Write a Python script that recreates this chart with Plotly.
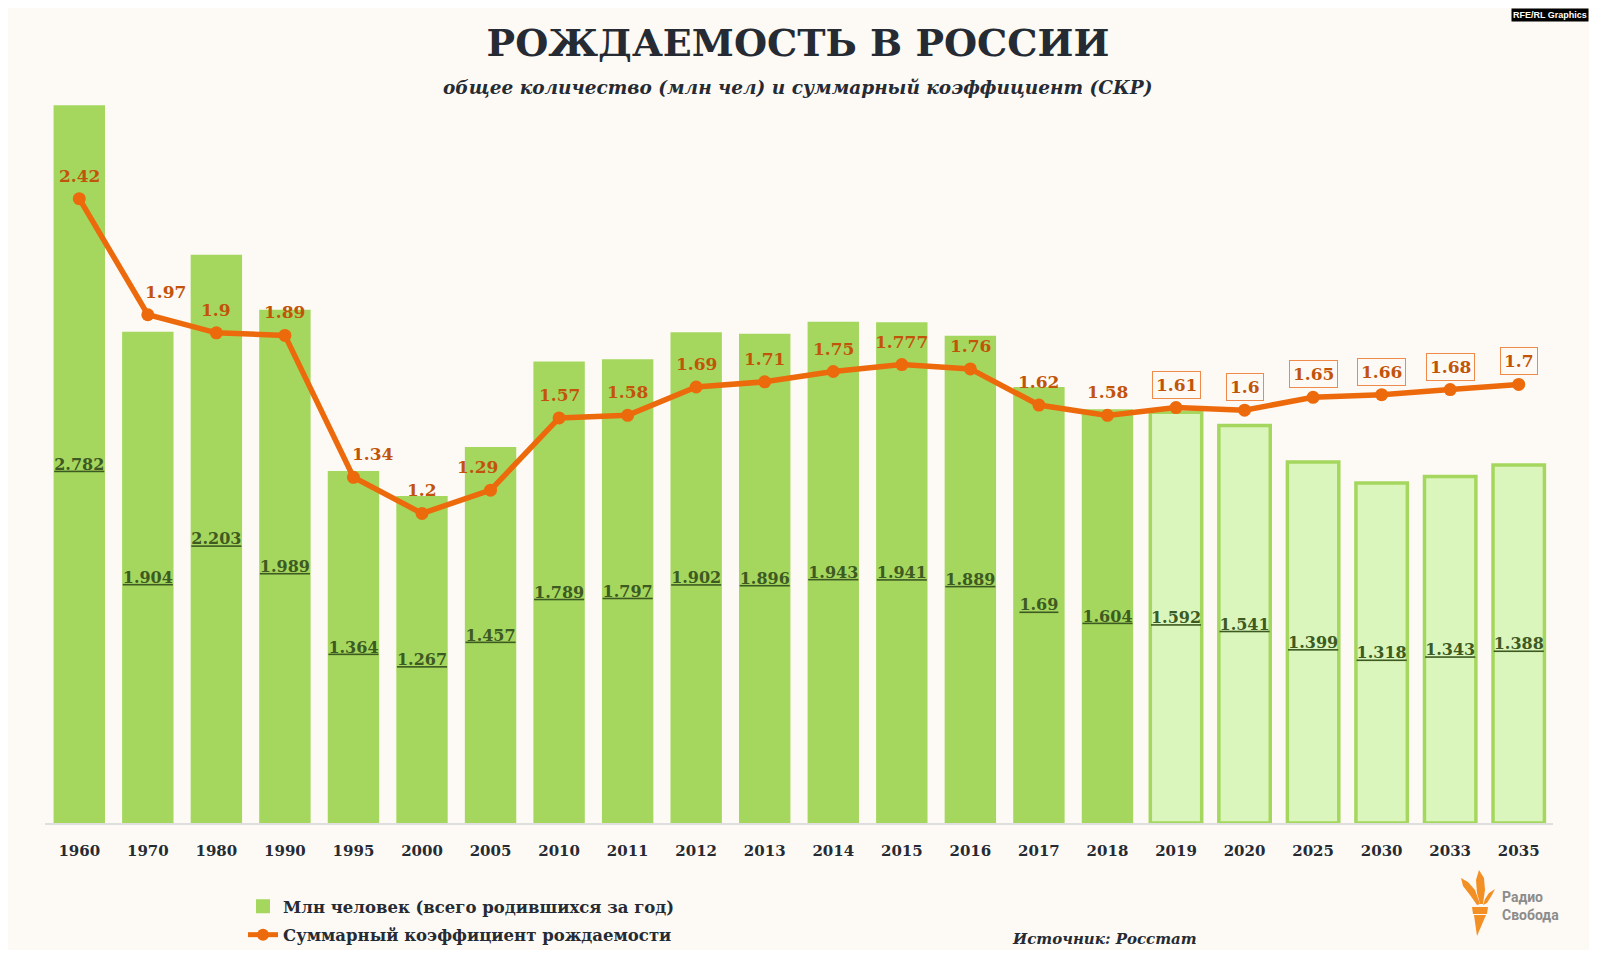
import plotly.graph_objects as go

# ---------------- data ----------------
years = ["1960", "1970", "1980", "1990", "1995", "2000", "2005", "2010", "2011", "2012",
         "2013", "2014", "2015", "2016", "2017", "2018", "2019", "2020", "2025", "2030",
         "2033", "2035"]
births_mln = [2.782, 1.904, 2.203, 1.989, 1.364, 1.267, 1.457, 1.789, 1.797, 1.902,
              1.896, 1.943, 1.941, 1.889, 1.69, 1.604, 1.592, 1.541, 1.399, 1.318,
              1.343, 1.388]
tfr = [2.42, 1.97, 1.9, 1.89, 1.34, 1.2, 1.29, 1.57, 1.58, 1.69,
       1.71, 1.75, 1.777, 1.76, 1.62, 1.58, 1.61, 1.6, 1.65, 1.66,
       1.68, 1.7]
first_forecast = "2019"

# ---------------- geometry (page pixels; body margin offsets the figure) ----------------
OFF = 8
W, H = 1581, 942
PL, PR, PT, PB = 45, 1553, 49, 823          # plot area in page pixels
L, T = PL - OFF, PT - OFF
R, B = W - (PR - OFF), H - (PB - OFF)
PW, PH = W - L - R, H - T - B


def px(x):
    return (x - OFF - L) / PW


def py(y):
    return (H - B - (y - OFF)) / PH


BG = "#fdfaf5"
GREEN = "#a5d75e"
GREEN_LIGHT = "#daf6bd"
ORANGE = "#ec6a0c"
ORANGE_TXT = "#c2540a"
DARK = "#262b33"
BAR_TXT = "#3d5a22"
SERIF = "DejaVu Serif"

fc = years.index(first_forecast)
n = len(years)
bar_colors = [GREEN if i < fc else GREEN_LIGHT for i in range(n)]
bar_line_w = [0 if i < fc else 3.5 for i in range(n)]

fig = go.Figure()
fig.add_trace(go.Bar(
    x=years, y=births_mln,
    name="Млн человек (всего родившихся за год)",
    marker=dict(color=bar_colors, line=dict(color=GREEN, width=bar_line_w)),
    text=[f"<u>{v:g}</u>" for v in births_mln],
    textposition="inside", insidetextanchor="middle", textangle=0,
    constraintext="none",
    textfont=dict(family=SERIF, size=16, color=BAR_TXT, weight="bold"),
    legendgroup="a",
    hoverinfo="skip",
))
fig.add_trace(go.Scatter(
    x=years, y=tfr, mode="lines+markers",
    name="Суммарный коэффициент рождаемости",
    line=dict(color=ORANGE, width=5.5),
    marker=dict(color=ORANGE, size=13),
    legendgroup="b",
    hoverinfo="skip",
))

# line value labels
label_xshift = {1: 18, 4: 20, 6: -13}
for i, v in enumerate(tfr):
    boxed = i >= fc
    fig.add_annotation(
        xref="x", yref="y", x=i, y=v, text=f"{v:g}", showarrow=False,
        xanchor="center", yanchor="middle",
        xshift=label_xshift.get(i, 0), yshift=23,
        font=dict(family=SERIF, size=17, color=ORANGE_TXT, weight="bold"),
        bordercolor="#f08a4b" if boxed else "rgba(0,0,0,0)",
        borderwidth=1, borderpad=3,
        bgcolor=BG if boxed else "rgba(0,0,0,0)",
    )

# subtitle
fig.add_annotation(
    xref="paper", yref="paper", x=px(798), y=py(87),
    text="общее количество (млн чел) и суммарный коэффициент (СКР)",
    showarrow=False, xanchor="center", yanchor="middle",
    font=dict(family=SERIF, size=18.5, color=DARK, style="italic", weight="bold"),
)
# source
fig.add_annotation(
    xref="paper", yref="paper", x=px(1010), y=py(939),
    text="Источник: Росстат", showarrow=False, xanchor="left", yanchor="middle",
    font=dict(family=SERIF, size=15, color=DARK, style="italic", weight="bold"),
)
# RFE/RL tag
fig.add_annotation(
    xref="paper", yref="paper", x=px(OFF + W), y=py(OFF),
    text="RFE/RL Graphics", showarrow=False, xanchor="right", yanchor="top",
    font=dict(family="Liberation Sans", size=9, color="white", weight="bold"),
    bgcolor="black", borderpad=1,
)
# logo text
for txt, yy in (("Радио", 897), ("Свобода", 915)):
    fig.add_annotation(
        xref="paper", yref="paper", x=px(1500), y=py(yy),
        text=txt, showarrow=False, xanchor="left", yanchor="middle",
        font=dict(family="Roboto", size=14, color="#8c8c8c", weight="bold"),
    )


def poly(points):
    return "M " + " L ".join(f"{px(x):.5f},{py(y):.5f}" for x, y in points) + " Z"


LOGO = "#f39025"
logo_parts = [
    [(1461, 878), (1468, 882), (1475, 890), (1480, 904), (1477, 905), (1470, 895), (1463, 886)],
    [(1479, 870), (1484, 878), (1485, 890), (1483, 904), (1480, 904), (1477, 893), (1476, 880)],
    [(1495, 889), (1489, 893), (1485, 899), (1483, 905), (1487, 903), (1492, 895)],
    [(1472, 907), (1488, 907), (1487, 914), (1473, 914)],
    [(1474, 915), (1486, 915), (1477, 936)],
]
shapes = [dict(type="path", path=poly(p), xref="paper", yref="paper",
               fillcolor=LOGO, line=dict(width=0)) for p in logo_parts]

fig.update_layout(
    width=W, height=H,
    margin=dict(l=L, r=R, t=T, b=B, pad=0, autoexpand=False),
    paper_bgcolor=BG, plot_bgcolor=BG,
    title=dict(text="РОЖДАЕМОСТЬ В РОССИИ", x=px(798), xref="paper",
               y=1 - (43 - OFF) / H, yref="container", xanchor="center", yanchor="middle",
               font=dict(family=SERIF, size=38, color=DARK, weight="bold")),
    bargap=0.25,
    showlegend=True,
    legend=dict(xref="container", yref="container", x=(243 - OFF) / W, y=1 - (889 - OFF) / H,
                xanchor="left", yanchor="top", orientation="v",
                bgcolor="rgba(0,0,0,0)", traceorder="grouped", tracegroupgap=4,
                font=dict(family=SERIF, size=16.5, color=DARK, weight="bold"),
                itemsizing="constant"),
    xaxis=dict(type="category", range=[-0.5, n - 0.5], showgrid=False,
               showline=True, linecolor="#dedede", linewidth=2, ticks="",
               ticklabelstandoff=13, tickangle=0,
               tickfont=dict(family=SERIF, size=15, color=DARK, weight="bold"),
               fixedrange=True),
    yaxis=dict(range=[0, 3.0], visible=False, showgrid=False, zeroline=False,
               fixedrange=True),
    shapes=shapes,
)

fig.write_html("out.html")
